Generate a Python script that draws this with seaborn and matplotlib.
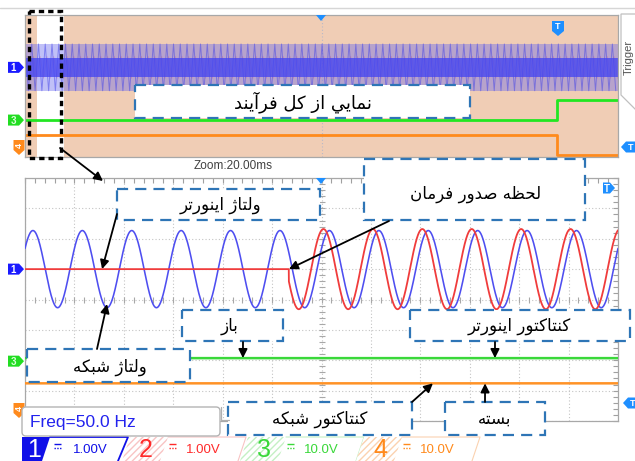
import numpy as np
import pandas as pd
import matplotlib
matplotlib.use("Agg")
import matplotlib.pyplot as plt
from matplotlib.patches import Polygon, Rectangle, FancyBboxPatch
from matplotlib.ticker import MultipleLocator
from matplotlib import font_manager
from matplotlib.ft2font import FT2Font
import seaborn as sns

# ---------------- measured values ----------------
# zoomed view: 12 div x 20 ms, 1.00 V/div for ch1/ch2, 10.0 V/div for ch3/ch4
freq_hz = [50.0]
zoom_span_ms = [0.0, 240.0]
grid_amp_div = [1.27]        # network voltage (blue)
grid_peak_ms = [3.2]
inv_amp_div = [1.32]         # inverter voltage (red)
inv_peak_ms = [0.8]
inv_start_ms = [106.8]       # command instant
ch1_ref_div = [1.0]
ch3_level_div = [-1.93]      # inverter contactor (open)
ch4_level_div = [-2.76]      # network contactor (closed)

# overview of the whole process
overview_span_ms = [0.0, 5270.0]
zoom_window_ms = [108.0, 348.0]
switch_ms = [4728.0]
ov_ch1_ref = [1.05]
ov_outer_amp = [1.32]
ov_inner_band = [0.51, 1.58]
ov_ch3_levels = [-1.92, -0.79]
ov_ch4_levels = [-2.76, -3.89]

# channel bar
ch_names = ["1", "2", "3", "4"]
ch_scales = ["1.00V", "1.00V", "10.0V", "10.0V"]
freq_label = "Freq=50.0 Hz"
zoom_label = "Zoom:20.00ms"

# annotation labels
lbl_overview = "نمايي از کل فرآيند"
lbl_inverter_v = "ولتاژ اينورتر"
lbl_command = "لحظه صدور فرمان"
lbl_grid_v = "ولتاژ شبکه"
lbl_open = "باز"
lbl_inv_contactor = "کنتاکتور اينورتر"
lbl_grid_contactor = "کنتاکتور شبکه"
lbl_closed = "بسته"

# ---------------- Persian shaping (presentation forms, RTL) ----------------
_dv_path = font_manager.findfont("DejaVu Sans")
_dv = FT2Font(_dv_path)


def _has(ch):
    return ch is not None and _dv.get_char_index(ord(ch)) != 0


_KAF_P = ("\uFB8E", "\uFB8F", "\uFB90", "\uFB91")
_KAF_A = ("\uFED9", "\uFEDA", "\uFEDB", "\uFEDC")
FORMS = {
    "ا": ("\uFE8D", "\uFE8E", None, None),
    "آ": ("\uFE81", "\uFE82", None, None),
    "ب": ("\uFE8F", "\uFE90", "\uFE91", "\uFE92"),
    "ت": ("\uFE95", "\uFE96", "\uFE97", "\uFE98"),
    "ح": ("\uFEA1", "\uFEA2", "\uFEA3", "\uFEA4"),
    "د": ("\uFEA9", "\uFEAA", None, None),
    "ر": ("\uFEAD", "\uFEAE", None, None),
    "ز": ("\uFEAF", "\uFEB0", None, None),
    "ژ": ("\uFB8A", "\uFB8B", None, None),
    "س": ("\uFEB1", "\uFEB2", "\uFEB3", "\uFEB4"),
    "ش": ("\uFEB5", "\uFEB6", "\uFEB7", "\uFEB8"),
    "ص": ("\uFEB9", "\uFEBA", "\uFEBB", "\uFEBC"),
    "ظ": ("\uFEC5", "\uFEC6", "\uFEC7", "\uFEC8"),
    "ف": ("\uFED1", "\uFED2", "\uFED3", "\uFED4"),
    "ل": ("\uFEDD", "\uFEDE", "\uFEDF", "\uFEE0"),
    "م": ("\uFEE1", "\uFEE2", "\uFEE3", "\uFEE4"),
    "ن": ("\uFEE5", "\uFEE6", "\uFEE7", "\uFEE8"),
    "ه": ("\uFEE9", "\uFEEA", "\uFEEB", "\uFEEC"),
    "و": ("\uFEED", "\uFEEE", None, None),
    "ي": ("\uFEF1", "\uFEF2", "\uFEF3", "\uFEF4"),
    "ک": _KAF_P if all(_has(c) for c in _KAF_P) else _KAF_A,
}


def fa(text):
    chars = list(text)
    out = []
    for i, c in enumerate(chars):
        f = FORMS.get(c)
        if f is None:
            out.append(c)
            continue
        prev = chars[i - 1] if i > 0 else None
        nxt = chars[i + 1] if i + 1 < len(chars) else None
        jp = prev in FORMS and FORMS[prev][2] is not None
        jn = nxt in FORMS and f[2] is not None
        if jp and jn:
            g = f[3]
        elif jp:
            g = f[1]
        elif jn:
            g = f[2]
        else:
            g = f[0]
        out.append(g if _has(g) else c)
    return "".join(reversed(out))


# ---------------- figure ----------------
sns.set_style("white")
plt.rcParams["font.family"] = ["DejaVu Sans"]
W, H = 635, 461
fig = plt.figure(figsize=(W / 100, H / 100), dpi=100)
fig.patch.set_facecolor("white")


def frac(x0, y0, x1, y1):
    return [x0 / W, 1 - y1 / H, (x1 - x0) / W, (y1 - y0) / H]


ax_top = fig.add_axes(frac(25, 15, 618, 157))
ax = fig.add_axes(frac(25, 178, 618, 421))

# ---- overview panel ----
peach = "#F0CDB5"
ax_top.set_facecolor(peach)
ax_top.set_xlim(*overview_span_ms)
ax_top.set_ylim(-4, 4)
ax_top.axvspan(zoom_window_ms[0], zoom_window_ms[1], color="white", lw=0, zorder=0.5)
ax_top.axvline(np.mean(overview_span_ms), color="#b8b8c8", lw=0.8, ls=(0, (1, 2)), zorder=0.6)

ref = ov_ch1_ref[0]
amp = ov_outer_amp[0]
ax_top.fill_between(overview_span_ms, ref - amp, ref + amp, color="#6a6aec", alpha=0.42, lw=0, zorder=1)
# compressed 50 Hz trace: one sample every 1.5 cycles
step = 1.5 * 1000.0 / freq_hz[0]
t_ov = np.arange(overview_span_ms[0], overview_span_ms[1], step)
blue_ov = ref + amp * np.cos(2 * np.pi * freq_hz[0] * t_ov / 1000.0)
red_ov = ref + 1.05 * amp * np.cos(2 * np.pi * freq_hz[0] * (t_ov + 2.4) / 1000.0 + 0.35)
sns.lineplot(x=t_ov, y=blue_ov, ax=ax_top, color="#4040e8", lw=0.7, alpha=0.5,
             sort=False, estimator=None, zorder=1.2)
sns.lineplot(x=t_ov + step / 2, y=red_ov, ax=ax_top, color="#e04060", lw=0.5, alpha=0.25,
             sort=False, estimator=None, zorder=1.1)
ax_top.fill_between(overview_span_ms, ov_inner_band[0], ov_inner_band[1],
                    color="#4848f0", alpha=0.8, lw=0, zorder=1.3)

t_step = [overview_span_ms[0], switch_ms[0], switch_ms[0], overview_span_ms[1]]
g_step = [ov_ch3_levels[0], ov_ch3_levels[0], ov_ch3_levels[1], ov_ch3_levels[1]]
o_step = [ov_ch4_levels[0], ov_ch4_levels[0], ov_ch4_levels[1], ov_ch4_levels[1]]
sns.lineplot(x=t_step, y=g_step, ax=ax_top, color="#22e622", lw=2.0, sort=False,
             estimator=None, zorder=2)
sns.lineplot(x=t_step, y=o_step, ax=ax_top, color="#ff8a1c", lw=2.0, sort=False,
             estimator=None, zorder=2)
ax_top.set_xticks([])
ax_top.set_yticks([])
ax_top.set_xlabel("")
ax_top.set_ylabel("")
for s in ax_top.spines.values():
    s.set_color("#a8a8a8")
    s.set_linewidth(0.9)

# ---- zoomed panel ----
t = np.linspace(zoom_span_ms[0], zoom_span_ms[1], 4801)
w = 2 * np.pi * freq_hz[0] / 1000.0
blue = ch1_ref_div[0] + grid_amp_div[0] * np.cos(w * (t - grid_peak_ms[0]))
red = np.where(t < inv_start_ms[0], ch1_ref_div[0],
               ch1_ref_div[0] + inv_amp_div[0] * np.cos(w * (t - inv_peak_ms[0])))
df = pd.DataFrame({"t": t, "grid": blue, "inverter": red,
                   "k_inv": ch3_level_div[0], "k_grid": ch4_level_div[0]})

ax.set_xlim(*zoom_span_ms)
ax.set_ylim(-4, 4)
ax.xaxis.set_major_locator(MultipleLocator(20))
ax.xaxis.set_minor_locator(MultipleLocator(4))
ax.yaxis.set_major_locator(MultipleLocator(1))
ax.yaxis.set_minor_locator(MultipleLocator(0.2))
ax.grid(which="major", color="#c4c4c4", lw=0.8, ls=(0, (1, 2)))
ax.tick_params(which="both", direction="in", top=True, right=True, length=3.5,
               color="#a0a0a0", width=0.8, labelbottom=False, labelleft=False)
for s in ax.spines.values():
    s.set_color("#a8a8a8")
    s.set_linewidth(0.9)
# graticule centre-line ticks
cx = np.arange(zoom_span_ms[0], zoom_span_ms[1] + 0.01, 4)
cy = np.arange(-4, 4.01, 0.2)
ax.plot(cx, np.zeros_like(cx), ls="none", marker="|", ms=4, mew=0.8, color="#a8a8a8", zorder=1)
ax.plot(np.full_like(cy, np.mean(zoom_span_ms)), cy, ls="none", marker="_", ms=4, mew=0.8,
        color="#a8a8a8", zorder=1)

sns.lineplot(data=df, x="t", y="grid", ax=ax, color="#4e4ef0", lw=1.15, estimator=None, zorder=3)
sns.lineplot(data=df, x="t", y="inverter", ax=ax, color="#f03c3c", lw=1.3, estimator=None, zorder=3.2)
sns.lineplot(data=df, x="t", y="k_inv", ax=ax, color="#3ad83a", lw=1.8, estimator=None, zorder=3)
sns.lineplot(data=df, x="t", y="k_grid", ax=ax, color="#ff9226", lw=1.8, estimator=None, zorder=3)
ax.set_xlabel("")
ax.set_ylabel("")

# ---------------- overlay in pixel units ----------------
over = fig.add_axes([0, 0, 1, 1], zorder=10)
over.set_xlim(0, W)
over.set_ylim(H, 0)
over.axis("off")
over.patch.set_alpha(0)


def px(a, x, y):
    return over.transData.inverted().transform(a.transData.transform((x, y)))


over.plot([0, W], [8, 8], color="#d6d6d6", lw=1.0)

# trigger tab on the right
over.add_patch(Polygon([(621, 14), (640, 14), (640, 110), (636, 110), (621, 95)], closed=True,
                       fc="white", ec="#c0c0c0", lw=0.9))
over.text(628.5, 57, "Trigger", rotation=90, ha="center", va="center", fontsize=8,
          color="#555555", family="Liberation Sans")

over.text(233, 166, zoom_label, ha="center", va="center", fontsize=8.5, color="#404040",
          family="Liberation Sans")

blue_tag = "#1e8fff"


def tag_right(xr, yc, face, label, tc="white", h=11, w=16):
    over.add_patch(Polygon([(xr - w, yc - h / 2), (xr - 5, yc - h / 2), (xr, yc),
                            (xr - 5, yc + h / 2), (xr - w, yc + h / 2)], closed=True,
                           fc=face, ec="none", zorder=3))
    over.text(xr - w / 2 - 2.5, yc + 0.5, label, color=tc, ha="center", va="center",
              fontsize=7, fontweight="bold", family="Liberation Sans", zorder=4)


def tag_left(xl, yc, face, label, tc="white", h=11, w=14):
    over.add_patch(Polygon([(xl, yc), (xl + 5, yc - h / 2), (xl + w, yc - h / 2),
                            (xl + w, yc + h / 2), (xl + 5, yc + h / 2)], closed=True,
                           fc=face, ec="none", zorder=3))
    over.text(xl + w / 2 + 2.5, yc + 0.5, label, color=tc, ha="center", va="center",
              fontsize=6.5, fontweight="bold", family="Liberation Sans", zorder=4)


def tag_down(xc, yt, face, label, tc="white", h=15, w=11, rot=0):
    over.add_patch(Polygon([(xc - w / 2, yt), (xc + w / 2, yt), (xc + w / 2, yt + h - 5),
                            (xc, yt + h), (xc - w / 2, yt + h - 5)], closed=True,
                           fc=face, ec="none", zorder=3))
    over.text(xc, yt + (h - 5) / 2 + 0.5, label, color=tc, ha="center", va="center",
              fontsize=6.5, fontweight="bold", family="Liberation Sans", rotation=rot, zorder=4)


# channel reference markers
_, y1t = px(ax_top, 0, ov_ch1_ref[0])
_, y3t = px(ax_top, 0, ov_ch3_levels[0])
_, y1b = px(ax, 0, ch1_ref_div[0])
_, y3b = px(ax, 0, ch3_level_div[0] - 0.1)
tag_right(24, y1t, "#1a1aff", "1")
tag_right(24, y3t, "#22dd22", "3", tc="#d8ffd8")
tag_down(19, 140, "#ff8a1c", "4", rot=90)
tag_right(24, y1b, "#1a1aff", "1")
tag_right(24, y3b, "#22dd22", "3", tc="#d8ffd8")
tag_down(19, 403, "#ff8a1c", "4", rot=90)

# trigger markers
tag_down(558, 21, blue_tag, "T", h=15, w=12)
tag_left(621, 147, blue_tag, "T", w=14)
tag_right(615, 188, blue_tag, "T", w=12)
tag_left(623, 403, blue_tag, "T", w=14)
# time reference markers
for yy in (15, 178):
    over.add_patch(Polygon([(316, yy), (326, yy), (321, yy + 6)], closed=True, fc=blue_tag,
                           ec="none", zorder=3))

# zoom window frame and pointer
over.add_patch(Rectangle((29, 11), 32, 147, fill=False, ec="black", lw=2.4,
                         ls=(0, (1.6, 1.2)), zorder=5))
arrow_kw = dict(arrowstyle="-|>", color="black", lw=1.3, mutation_scale=13, shrinkA=0, shrinkB=0)
over.annotate("", xy=(103, 181), xytext=(60, 148), arrowprops=arrow_kw, zorder=6)

# annotation boxes
box_col = "#2e75b6"


def note(x0, y0, x1, y1, text, tx, ty, size=12):
    over.add_patch(Rectangle((x0, y0), x1 - x0, y1 - y0, fc="white", ec=box_col, lw=1.6,
                             ls=(0, (5, 3.2)), zorder=5))
    over.text(tx, ty, fa(text), ha="center", va="center", fontsize=size, color="black",
              family="DejaVu Sans", zorder=6)


def pointer(x0, y0, a, dx, dy):
    tx, ty = px(a, dx, dy)
    over.annotate("", xy=(tx, ty), xytext=(x0, y0), arrowprops=arrow_kw, zorder=7)


note(135, 85, 470, 118, lbl_overview, 303, 102, size=13)
note(117, 189, 320, 220, lbl_inverter_v, 220, 205)
note(364, 159, 585, 220, lbl_command, 476, 194)
note(27, 349, 190, 382, lbl_grid_v, 110, 367)
note(182, 310, 283, 341, lbl_open, 230, 326)
note(410, 310, 630, 341, lbl_inv_contactor, 519, 326)
note(228, 402, 412, 435, lbl_grid_contactor, 320, 419)
note(445, 402, 545, 435, lbl_closed, 495, 419)

pointer(117, 214, ax, 31.2, ch1_ref_div[0])
pointer(389, 221, ax, inv_start_ms[0], ch1_ref_div[0])
pointer(97, 349, ax, grid_peak_ms[0] + 30.0, ch1_ref_div[0] - grid_amp_div[0] + 0.12)
pointer(243, 342, ax, 88.2, ch3_level_div[0])
pointer(495, 342, ax, 190.2, ch3_level_div[0])
pointer(412, 402, ax, 165.1, ch4_level_div[0])
pointer(485, 402, ax, 186.2, ch4_level_div[0])

# frequency readout
over.plot([221, 221, 229], [407, 420, 420], color="#b0b0b0", lw=0.9, zorder=5)
over.add_patch(FancyBboxPatch((22, 407), 198, 29, boxstyle="round,pad=0,rounding_size=4",
                              fc="white", ec="#b4b4b4", lw=1.0, zorder=6))
over.text(30, 422, freq_label, ha="left", va="center", fontsize=12.5, color="#2222ee",
          family="Liberation Sans", zorder=7)

# channel bar
ch_cols = ["#1010e8", "#ff2a2a", "#39d839", "#ff8a1c"]
ch_light = [None, "#f8c4c4", "#c4f0c4", "#fbd2b0"]
x_starts = [22, 128, 246, 362]
for i, (name, scale) in enumerate(zip(ch_names, ch_scales)):
    x0 = x_starts[i]
    y0, y1 = 437, 461
    if i == 0:
        over.add_patch(Polygon([(x0, y0), (x0 + 28, y0), (x0 + 20, y1), (x0, y1)], closed=True,
                               fc=ch_cols[0], ec="none", zorder=5))
        over.plot([x0 + 28, x0 + 106, x0 + 96], [y0, y0, y1], color=ch_cols[0], lw=1.3, zorder=5)
        num_col = "white"
    else:
        over.add_patch(Polygon([(x0 + 2, y0), (x0 + 40, y0), (x0 + 32, y1), (x0 - 6, y1)],
                               closed=True, fc="white", ec="none", hatch="/////", zorder=5))
        over.patches[-1].set_edgecolor(ch_light[i])
        over.patches[-1].set_linewidth(0)
        over.plot([x0 + 40, x0 + 118, x0 + 110], [y0, y0, y1], color=ch_light[i], lw=0.8, zorder=5)
        num_col = ch_cols[i]
    over.text(x0 + 12 if i == 0 else x0 + 18, 450, name, ha="center", va="center",
              fontsize=18, color=num_col, family="Liberation Sans", zorder=6)
    # DC coupling symbol: solid bar over a dashed bar
    sx = x0 + 35 if i == 0 else x0 + 44
    over.plot([sx - 3.5, sx + 3.5], [444, 444], color=ch_cols[i], lw=1.0,
              solid_capstyle="butt", zorder=6)
    over.plot([sx - 3.5, sx + 3.5], [447.5, 447.5], color=ch_cols[i], lw=1.0,
              ls=(0, (1, 1)), zorder=6)
    over.text(x0 + 51 if i == 0 else x0 + 58, 450, scale, ha="left", va="center",
              fontsize=9.5, color=ch_cols[i], family="Liberation Sans", zorder=6)

fig.savefig("out.png", dpi=100, facecolor="white")
